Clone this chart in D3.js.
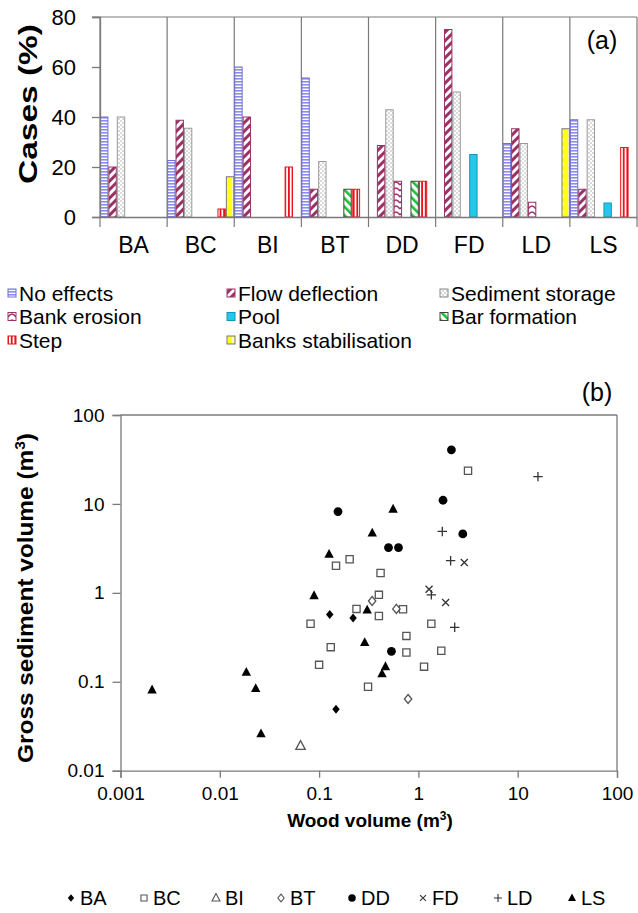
<!DOCTYPE html>
<html><head><meta charset="utf-8">
<script src="https://cdn.jsdelivr.net/npm/d3@7"></script>
<style>
body{margin:0;background:#fff;}
svg{display:block;font-family:"Liberation Sans",Arial,sans-serif;}
</style></head><body>
<svg id="c" width="638" height="913"></svg>
<script>
// ---------- DATA: panel (a) ----------
const sites = ["BA","BC","BI","BT","DD","FD","LD","LS"];
const effects = ["No effects","Flow deflection","Sediment storage","Bank erosion","Pool","Bar formation","Step","Banks stabilisation"];
const noEffects          = [40, 22.6, 60, 55.6, 0, 0, 29.4, 38.9];
const flowDeflection     = [20, 38.7, 40, 11.1, 28.6, 75, 35.3, 11.1];
const sedimentStorage    = [40, 35.5, 0, 22.2, 42.9, 50, 29.4, 38.9];
const bankErosion        = [0, 0, 0, 0, 14.3, 0, 5.9, 0];
const pool               = [0, 0, 0, 0, 0, 25, 0, 5.6];
const barFormation       = [0, 0, 0, 11.1, 14.3, 0, 0, 0];
const step               = [0, 3.2, 20, 11.1, 14.3, 0, 0, 27.8];
const banksStabilisation = [0, 16.1, 0, 0, 0, 0, 35.3, 0];
const yTicksA = [0, 20, 40, 60, 80];

// ---------- DATA: panel (b) [wood volume m3, gross sediment volume m3] ----------
const ptsBA = [[0.128,0.57],[0.22,0.52],[0.148,0.049]];
const ptsBC = [[0.082,0.45],[0.131,0.245],[0.1,0.155],[0.148,2.02],[0.203,2.39],[0.416,1.67],
               [0.40,0.95],[0.238,0.66],[0.40,0.55],[0.70,0.655],[1.35,0.45],[0.757,0.328],
               [0.757,0.213],[1.7,0.223],[1.14,0.148],[0.311,0.088],[3.16,23.6]];
const ptsBI = [[0.065,0.019]];
const ptsBT = [[0.342,0.81],[0.6,0.66],[0.787,0.064]];
const ptsDD = [[0.155,8.2],[0.5,3.23],[0.63,3.23],[1.77,11],[2.15,40.6],[2.8,4.6],[0.535,0.22]];
const ptsFD = [[1.28,1.1],[1.88,0.78],[2.9,2.19]];
const ptsLD = [[1.74,4.9],[2.11,2.3],[1.35,0.95],[2.32,0.41],[16,20.3]];
const ptsLS = [[0.00208,0.081],[0.0185,0.128],[0.023,0.084],[0.026,0.026],[0.089,0.93],[0.126,2.72],
               [0.288,0.276],[0.305,0.64],[0.343,4.7],[0.556,8.74],[0.466,0.148],[0.43,0.123]];
const xTicksB = [0.001,0.01,0.1,1,10,100];
const xTickLabelsB = ["0.001","0.01","0.1","1","10","100"];
const yTicksB = [0.01,0.1,1,10,100];
const yTickLabelsB = ["0.01","0.1","1","10","100"];

const seriesA = [noEffects, flowDeflection, sedimentStorage, bankErosion, pool, barFormation, step, banksStabilisation];
const seriesB = [
  {name:"BA", pts:ptsBA, sym:"diamond"},
  {name:"BC", pts:ptsBC, sym:"square"},
  {name:"BI", pts:ptsBI, sym:"triOpen"},
  {name:"BT", pts:ptsBT, sym:"diamondOpen"},
  {name:"DD", pts:ptsDD, sym:"circle"},
  {name:"FD", pts:ptsFD, sym:"times"},
  {name:"LD", pts:ptsLD, sym:"plus"},
  {name:"LS", pts:ptsLS, sym:"triangle"}
];

const svg = d3.select("#c");
const defs = svg.append("defs");
const axisCol = "#7a7a7a";

// ---------- patterns ----------
function pat(id, w, h, transform) {
  const p = defs.append("pattern").attr("id", id).attr("patternUnits","userSpaceOnUse")
    .attr("width", w).attr("height", h);
  if (transform) p.attr("patternTransform", transform);
  return p;
}
let p;
p = pat("pNo", 4, 3); p.append("rect").attr("width",4).attr("height",3).attr("fill","#fff");
p.append("rect").attr("width",4).attr("height",1.6).attr("fill","#8c8cf0");
p = pat("pFlow", 6, 6, "rotate(45)"); p.append("rect").attr("width",6).attr("height",6).attr("fill","#fff");
p.append("rect").attr("width",3).attr("height",6).attr("fill","#993366");
p = pat("pSed", 4, 4); p.append("rect").attr("width",4).attr("height",4).attr("fill","#fff");
p.append("circle").attr("cx",1).attr("cy",1).attr("r",0.7).attr("fill","#9a9a9a");
p.append("circle").attr("cx",3).attr("cy",3).attr("r",0.7).attr("fill","#9a9a9a");
p = pat("pBank", 8, 6); p.append("rect").attr("width",8).attr("height",6).attr("fill","#fff");
p.append("path").attr("d","M0,5 Q4,-1 8,5").attr("fill","none").attr("stroke","#993366").attr("stroke-width",1.4);
p = pat("pBar", 6, 6, "rotate(-45)"); p.append("rect").attr("width",6).attr("height",6).attr("fill","#fff");
p.append("rect").attr("width",2.6).attr("height",6).attr("fill","#18c030");
p = pat("pStep", 3.6, 4); p.append("rect").attr("width",3.6).attr("height",4).attr("fill","#fff");
p.append("rect").attr("width",1.8).attr("height",4).attr("fill","#e8141c");
p = pat("pYel", 8, 8); p.append("rect").attr("width",8).attr("height",8).attr("fill","#ffff1a");
p.append("path").attr("d","M0,0 L4,4 L0,8 Z").attr("fill","#fffbd0");

const fills = ["url(#pNo)","url(#pFlow)","url(#pSed)","url(#pBank)","#24c8ea","url(#pBar)","url(#pStep)","url(#pYel)"];
const strokes = ["#7070d0","#993366","#999","#993366","#1a95b5","#444","#e8141c","#777"];

// ---------- panel (a) ----------
const xA = d3.scaleBand().domain(sites).range([100, 637]).paddingInner(0).paddingOuter(0);
const xSub = d3.scaleBand().domain(effects).range([0, xA.bandwidth()]);
const yA = d3.scaleLinear().domain([0, 80]).range([217, 17]);

const gA = svg.append("g");
const bounds = sites.map(s => xA(s)).concat([xA.range()[1]]);
gA.selectAll("line.sep").data(bounds).join("line")
  .attr("x1", d => d).attr("x2", d => d).attr("y1", yA(80)).attr("y2", yA(0) + 10)
  .attr("stroke", axisCol).attr("stroke-width", 1.2);
gA.append("line").attr("x1", 92).attr("x2", 637).attr("y1", yA(80)).attr("y2", yA(80))
  .attr("stroke", axisCol).attr("stroke-width", 1.2);

effects.forEach((e, j) => {
  gA.append("g").selectAll("rect").data(sites.map((s, i) => ({s, v: seriesA[j][i]})).filter(d => d.v > 0))
    .join("rect")
    .attr("x", d => xA(d.s) + xSub(e) + 0.5)
    .attr("width", xSub.bandwidth() - 1)
    .attr("y", d => yA(d.v))
    .attr("height", d => yA(0) - yA(d.v))
    .attr("fill", fills[j]).attr("stroke", strokes[j]).attr("stroke-width", 1);
});

const axA = gA.append("g").attr("transform", "translate(100,0)")
  .call(d3.axisLeft(yA).tickValues(yTicksA).tickSize(8).tickPadding(16));
axA.selectAll("path,line").attr("stroke", axisCol).attr("stroke-width", 1.3);
axA.selectAll("text").attr("font-size", 22).attr("fill", "#000").attr("font-family","Liberation Sans, Arial, sans-serif");
const axAx = gA.append("g").attr("transform", `translate(0,${yA(0)})`)
  .call(d3.axisBottom(xA).tickSize(0).tickPadding(20));
axAx.select("path").attr("stroke", axisCol).attr("stroke-width", 1.3);
axAx.selectAll("text").attr("font-size", 23).attr("fill", "#000").attr("font-family","Liberation Sans, Arial, sans-serif");

gA.append("text").attr("transform", "translate(37,104) rotate(-90)")
  .attr("text-anchor", "middle").attr("font-size", 25).attr("font-weight", "bold")
  .attr("textLength", 160).attr("lengthAdjust", "spacingAndGlyphs").text("Cases (%)");
gA.append("text").attr("x", 602).attr("y", 49).attr("text-anchor", "middle")
  .attr("font-size", 25).text("(a)");

// legend (a)
const legCols = [8, 227, 440];
const legRows = [293, 316.5, 340];
effects.forEach((e, j) => {
  const col = j % 3, row = Math.floor(j / 3);
  const lx = legCols[col], ly = legRows[row];
  const g = gA.append("g");
  g.append("rect").attr("x", lx).attr("y", ly - 4).attr("width", 8).attr("height", 8)
    .attr("fill", fills[j]).attr("stroke", strokes[j] === "#999" ? "#888" : strokes[j]).attr("stroke-width", 1);
  g.append("text").attr("x", lx + 11).attr("y", ly + 7.5).attr("font-size", 21)
    .attr("textLength", e.length > 0 ? null : null).text(e);
});

// ---------- panel (b) ----------
const xB = d3.scaleLog().domain([0.001, 100]).range([120.5, 617]);
const yB = d3.scaleLog().domain([0.01, 100]).range([770.7, 415]);
const gB = svg.append("g");

gB.append("line").attr("x1", 120.5).attr("x2", 617).attr("y1", 415).attr("y2", 415).attr("stroke", axisCol).attr("stroke-width", 1.3);
gB.append("line").attr("x1", 617).attr("x2", 617).attr("y1", 415).attr("y2", 770.7).attr("stroke", axisCol).attr("stroke-width", 1.3);

const axBx = gB.append("g").attr("transform", "translate(0,770.7)")
  .call(d3.axisBottom(xB).tickValues(xTicksB).tickFormat((d, i) => xTickLabelsB[i]).tickSize(7).tickPadding(9));
const axBy = gB.append("g").attr("transform", "translate(120.5,0)")
  .call(d3.axisLeft(yB).tickValues(yTicksB).tickFormat((d, i) => yTickLabelsB[i]).tickSize(8).tickPadding(8));
[axBx, axBy].forEach(a => {
  a.selectAll("path,line").attr("stroke", axisCol).attr("stroke-width", 1.3);
  a.selectAll("text").attr("font-size", 19).attr("fill", "#000").attr("font-family","Liberation Sans, Arial, sans-serif");
});

function symPath(type) {
  const c = d3.path();
  switch (type) {
    case "square": c.rect(-3.6, -3.6, 7.2, 7.2); break;
    case "circle": c.arc(0, 0, 4.4, 0, 2 * Math.PI); break;
    case "diamond": case "diamondOpen": c.moveTo(0, -4.5); c.lineTo(3.7, 0); c.lineTo(0, 4.5); c.lineTo(-3.7, 0); c.closePath(); break;
    case "triangle": case "triOpen": c.moveTo(0, -5.3); c.lineTo(4.7, 3.5); c.lineTo(-4.7, 3.5); c.closePath(); break;
    case "times": c.moveTo(-3.5, -3.5); c.lineTo(3.5, 3.5); c.moveTo(3.5, -3.5); c.lineTo(-3.5, 3.5); break;
    case "plus": c.moveTo(-4.7, 0); c.lineTo(4.7, 0); c.moveTo(0, -4.7); c.lineTo(0, 4.7); break;
  }
  return c.toString();
}
function styleSym(sel, type) {
  if (type === "square" || type === "triOpen" || type === "diamondOpen")
    sel.attr("fill", "#fff").attr("stroke", "#555").attr("stroke-width", 1.3);
  else if (type === "times" || type === "plus")
    sel.attr("fill", "none").attr("stroke", "#333").attr("stroke-width", 1.3);
  else sel.attr("fill", "#000").attr("stroke", "none");
}
seriesB.forEach(s => {
  const sel = gB.append("g").selectAll("path").data(s.pts).join("path")
    .attr("transform", d => `translate(${xB(d[0])},${yB(d[1])})`)
    .attr("d", symPath(s.sym));
  styleSym(sel, s.sym);
});

gB.append("text").attr("transform", "translate(33,598) rotate(-90)")
  .attr("text-anchor", "middle").attr("font-size", 22).attr("font-weight", "bold")
  .attr("textLength", 330).attr("lengthAdjust", "spacingAndGlyphs")
  .html('Gross sediment volume (m<tspan baseline-shift="super" font-size="14">3</tspan>)');
gB.append("text").attr("x", 370).attr("y", 827).attr("text-anchor", "middle")
  .attr("font-size", 19).attr("font-weight", "bold")
  .html('Wood volume (m<tspan baseline-shift="super" font-size="12">3</tspan>)');
gB.append("text").attr("x", 597).attr("y", 401).attr("text-anchor", "middle")
  .attr("font-size", 25).text("(b)");

// legend (b)
const legBx = [71, 144, 216, 281, 352, 423, 498, 572];
seriesB.forEach((s, i) => {
  const g = gB.append("g").attr("transform", `translate(${legBx[i]},898)`);
  const m = g.append("path").attr("d", symPath(s.sym)).attr("transform", "scale(0.85)");
  styleSym(m, s.sym);
  g.append("text").attr("x", 9).attr("y", 7).attr("font-size", 20).text(s.name);
});
</script>
</body></html>
